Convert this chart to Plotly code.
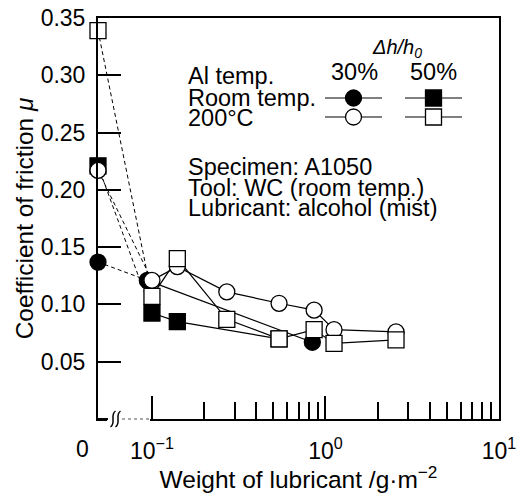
import math
import plotly.graph_objects as go

# Weight of lubricant in g/m^2 (0 = no lubricant, plotted on the broken left end)
x_rt30 = [0, 0.094, 0.84]
mu_rt30 = [0.137, 0.121, 0.067]

x_rt50 = [0, 0.10, 0.14, 0.54]
mu_rt50 = [0.221, 0.0925, 0.085, 0.070]

x_hot30 = [0, 0.10, 0.14, 0.27, 0.54, 0.86, 1.12, 2.55]
mu_hot30 = [0.217, 0.121, 0.133, 0.111, 0.101, 0.095, 0.078, 0.076]

x_hot50 = [0, 0.10, 0.14, 0.27, 0.54, 0.86, 1.12, 2.55]
mu_hot50 = [0.339, 0.107, 0.140, 0.087, 0.070, 0.078, 0.066, 0.069]

y_ticks = [0.05, 0.10, 0.15, 0.20, 0.25, 0.30, 0.35]
y_ticktext = ["0.05", "0.10", "0.15", "0.20", "0.25", "0.30", "0.35"]
x_ticks = [0.1, 1, 10]
x_ticktext = ["10<sup>−1</sup>", "10<sup>0</sup>", "10<sup>1</sup>"]
x_minor = [0.2, 0.3, 0.4, 0.5, 0.6, 0.7, 0.8, 0.9, 2, 3, 4, 5, 6, 7, 8, 9]

FONT = "Liberation Sans, Arial, sans-serif"
W, H = 521, 493
ML, MR, MT, MB = 98, 22, 18, 74
PW, PH = W - ML - MR, H - MT - MB

XLOG_MIN, XLOG_MAX = -1.311, 1.0
X_ZERO = 10 ** XLOG_MIN  # where the "0" amount sits on the axis
MSIZE = 16


def px(xp):
    return (xp - ML) / PW


def py(yp):
    return (H - MB - yp) / PH


def plot_x(v):
    return X_ZERO if v == 0 else v


series = [
    (x_rt30, mu_rt30, "circle", "black"),
    (x_rt50, mu_rt50, "square", "black"),
    (x_hot30, mu_hot30, "circle", "white"),
    (x_hot50, mu_hot50, "square", "white"),
]

fig = go.Figure()

# connecting lines first: dashed from the zero point, solid after
for xs, ys, sym, fill in series:
    fig.add_trace(go.Scatter(
        x=[plot_x(xs[0]), plot_x(xs[1])], y=[ys[0], ys[1]], mode="lines",
        line=dict(color="black", width=1, dash="4px,3px"), cliponaxis=False,
        hoverinfo="skip"))
    fig.add_trace(go.Scatter(
        x=xs[1:], y=ys[1:], mode="lines",
        line=dict(color="black", width=1.2), cliponaxis=False, hoverinfo="skip"))

# markers on top
for xs, ys, sym, fill in series:
    fig.add_trace(go.Scatter(
        x=[plot_x(v) for v in xs], y=ys, mode="markers", cliponaxis=False,
        marker=dict(symbol=sym, size=MSIZE, color=fill,
                    line=dict(color="black", width=1.3))))

# legend samples on an overlay axis in plot-fraction units
leg_rows = [(py(98), "black"), (py(117), "white")]
for yy, fill in leg_rows:
    for (x0, x1, sym) in [(px(325), px(382), "circle"), (px(405), px(462), "square")]:
        fig.add_trace(go.Scatter(
            x=[x0, x1], y=[yy, yy], mode="lines", xaxis="x2", yaxis="y2",
            line=dict(color="black", width=1.2), hoverinfo="skip"))
        fig.add_trace(go.Scatter(
            x=[(x0 + x1) / 2], y=[yy], mode="markers", xaxis="x2", yaxis="y2",
            marker=dict(symbol=sym, size=MSIZE, color=fill,
                        line=dict(color="black", width=1.3)), hoverinfo="skip"))

tfont = dict(family=FONT, size=23.5, color="black")
tickfont = dict(family=FONT, size=23, color="black")
titlefont = dict(family=FONT, size=24.5, color="black")

annotations = []


def note(text, xp, yp, xanchor="left", font=tfont):
    annotations.append(dict(text=text, x=px(xp), y=py(yp), xref="paper", yref="paper",
                            xanchor=xanchor, yanchor="middle", showarrow=False, font=font))


note("<i>Δh/h<sub>0</sub></i>", 397, 48, "center", dict(family=FONT, size=20, color="black"))
note("30%", 354, 72, "center")
note("50%", 433, 72, "center")
note("Al temp.", 186, 76)
note("Room temp.", 186, 98)
note("200°C", 186, 118)
note("Specimen: A1050", 186, 167)
note("Tool: WC (room temp.)", 186, 188)
note("Lubricant: alcohol (mist)", 186, 208)
note("0", 82, 449, "center", tickfont)

# axis break on the bottom axis
shapes = [
    dict(type="rect", xref="paper", yref="paper", x0=px(107), x1=px(150),
         y0=py(422), y1=py(416), fillcolor="white", line=dict(width=0), layer="above"),
    dict(type="line", xref="paper", yref="paper", x0=px(122), x1=px(151),
         y0=py(419), y1=py(419), line=dict(color="#555", width=1.2, dash="dot"),
         layer="above"),
    dict(type="line", xref="paper", yref="paper", x0=px(97), x1=px(108),
         y0=py(419), y1=py(419), line=dict(color="black", width=2), layer="above"),
]
for x0 in (110.5, 115.5):
    path = "M {},{} C {},{} {},{} {},{}".format(
        px(x0), py(427), px(x0 + 6), py(423), px(x0 - 1), py(415), px(x0 + 5), py(411))
    shapes.append(dict(type="path", xref="paper", yref="paper", path=path,
                       line=dict(color="black", width=1.5), layer="above"))

fig.update_layout(
    width=W, height=H, margin=dict(l=ML, r=MR, t=MT, b=MB, autoexpand=False),
    plot_bgcolor="white", paper_bgcolor="white", showlegend=False,
    font=tfont,
    xaxis=dict(
        type="log", range=[XLOG_MIN, XLOG_MAX], tickmode="array",
        tickvals=x_ticks, ticktext=x_ticktext, ticks="inside", ticklen=23,
        tickwidth=2, tickcolor="black", showline=True, linewidth=2,
        linecolor="black", mirror=True, showgrid=False, zeroline=False,
        tickfont=tickfont, ticklabelstandoff=10, automargin=False,
        minor=dict(tickvals=x_minor, ticks="inside", ticklen=17, tickwidth=2,
                   tickcolor="black", showgrid=False),
        title=dict(text="Weight of lubricant /g·m<sup>−2</sup>", font=titlefont, standoff=29),
    ),
    yaxis=dict(
        range=[0, 0.35], tickmode="array", tickvals=y_ticks, ticktext=y_ticktext,
        ticks="inside", ticklen=23, tickwidth=2, tickcolor="black",
        showline=True, linewidth=2, linecolor="black", mirror=True,
        showgrid=False, zeroline=False, tickfont=tickfont, ticklabelstandoff=6,
        automargin=False,
        title=dict(text="Coefficient of friction <i>μ</i>", font=titlefont, standoff=0),
    ),
    xaxis2=dict(overlaying="x", range=[0, 1], visible=False, fixedrange=True),
    yaxis2=dict(overlaying="y", range=[0, 1], visible=False, fixedrange=True),
    annotations=annotations,
    shapes=shapes,
)

fig.write_html("out.html")
